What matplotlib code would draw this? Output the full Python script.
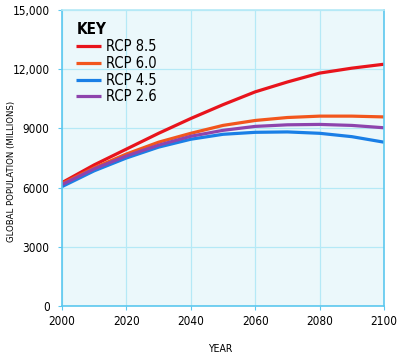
import matplotlib
matplotlib.use("Agg")
import matplotlib.pyplot as plt

years = [2000, 2010, 2020, 2030, 2040, 2050, 2060, 2070, 2080, 2090, 2100]
rcp85 = [6250, 7150, 7950, 8750, 9500, 10200, 10850, 11350, 11800, 12050, 12250]
rcp60 = [6200, 7000, 7700, 8300, 8750, 9150, 9400, 9550, 9620, 9620, 9580]
rcp45 = [6050, 6850, 7500, 8050, 8450, 8700, 8800, 8820, 8750, 8580, 8300]
rcp26 = [6150, 6950, 7600, 8150, 8600, 8900, 9100, 9180, 9200, 9150, 9030]
series_labels = ["RCP 8.5", "RCP 6.0", "RCP 4.5", "RCP 2.6"]
series_colors = ["#e8141c", "#f2561d", "#1a7fe6", "#8e44ad"]
yticks = [0, 3000, 6000, 9000, 12000, 15000]
ytick_labels = ["0", "3000", "6000", "9000", "12,000", "15,000"]
xticks = [2000, 2020, 2040, 2060, 2080, 2100]

plt.rcParams['font.family'] = ['DejaVu Sans']
plt.rcParams['font.stretch'] = 'condensed'

fig = plt.figure(figsize=(4, 3.55), dpi=100)
ax = fig.add_axes([0.155, 0.138, 0.805, 0.834])
ax.set_facecolor("#ebf8fb")

for vals, lab, col in zip([rcp85, rcp60, rcp45, rcp26], series_labels, series_colors):
    ax.plot(years, vals, color=col, lw=2.3, label=lab, solid_capstyle='butt')

ax.set_xlim(2000, 2100)
ax.set_ylim(0, 15000)
ax.set_xticks(xticks)
ax.set_yticks(yticks)
ax.set_yticklabels(ytick_labels)
ax.grid(True, color="#b5e9f6", lw=0.9)
ax.set_axisbelow(True)
for s in ax.spines.values():
    s.set_color("#5cc8ef")
    s.set_linewidth(1.2)
ax.spines['top'].set_color("#b5e9f6")
ax.tick_params(axis='both', colors="#5cc8ef", labelcolor="black", labelsize=8.5, length=3)
ax.tick_params(axis='y', pad=6)

ax.set_ylabel("GLOBAL POPULATION (MILLIONS)", fontsize=6.8)
ax.yaxis.set_label_coords(-0.143, 0.456)
ax.set_xlabel("YEAR", fontsize=7.5)
ax.xaxis.set_label_coords(0.49, -0.13)

leg = ax.legend(loc='upper left', title="KEY", frameon=False, fontsize=10.5,
                handlelength=1.65, handletextpad=0.4, labelspacing=0.12,
                borderaxespad=0.0, borderpad=0.0, bbox_to_anchor=(0.045, 0.958))
leg.get_title().set_fontweight('bold')
leg.get_title().set_fontsize(11)
leg._legend_box.align = "left"

fig.savefig("out.png", dpi=100)
